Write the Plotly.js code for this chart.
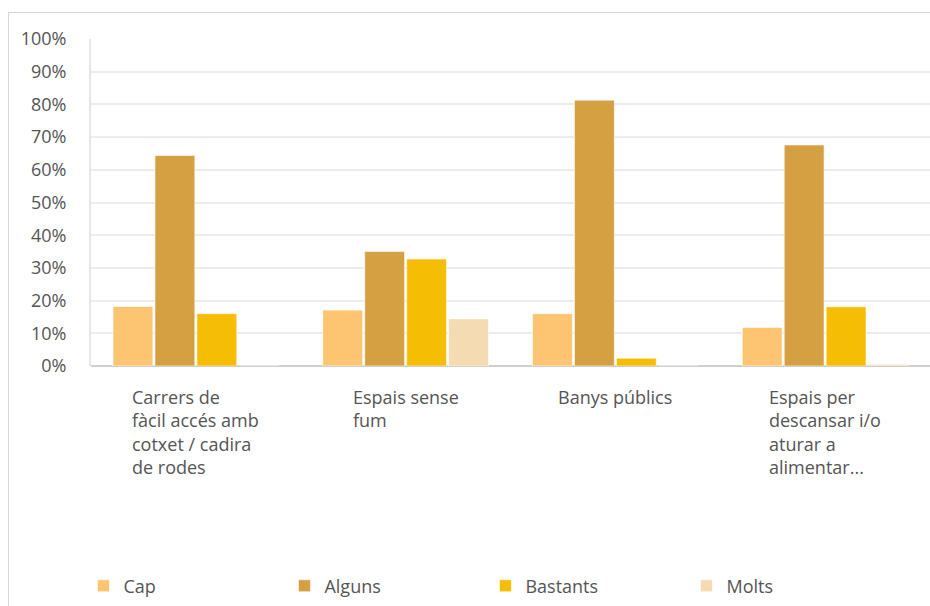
<!DOCTYPE html>
<html>
<head>
<meta charset="utf-8">
<script src="https://cdn.plot.ly/plotly-3.0.1.min.js"></script>
<style>
body{margin:0;padding:0;background:#fff;}
#wrap{position:relative;width:930px;height:606px;}
#chart{position:absolute;left:0;top:0;width:930px;height:606px;}
#frame{position:absolute;left:8px;top:12px;width:930px;height:600px;border-top:1px solid #d6d6d6;border-left:1px solid #d6d6d6;pointer-events:none;}
</style>
</head>
<body>
<div id="wrap"><div id="chart"></div><div id="frame"></div></div>
<script>
const categories = ["Carrers de<br>fàcil accés amb<br>cotxet / cadira<br>de rodes", "Espais sense<br>fum", "Banys públics", "Espais per<br>descansar i/o<br>aturar a<br>alimentar..."];
const seriesNames = ["Cap", "Alguns", "Bastants", "Molts"];
const cap = [18.2, 17.1, 16.0, 11.8];
const alguns = [64.4, 35.0, 81.3, 67.6];
const bastants = [16.0, 32.7, 2.4, 18.1];
const molts = [0, 14.4, 0, 0.5];
const colors = ["#FDC571", "#D5A042", "#F5BD03", "#F5DBB1"];
const yTicks = [0,10,20,30,40,50,60,70,80,90,100];

const font = "Open Sans, Liberation Sans, sans-serif";
const idx = categories.map((c,i)=>i);
const vals = [cap, alguns, bastants, molts];
const traces = vals.map((v,i)=>({
  type:'bar', x: idx, y: v, name: seriesNames[i],
  marker:{color: colors[i], line:{color:'rgba(255,255,255,0.6)', width:1}},
  hoverinfo:'y+name'
}));

const annotations = categories.map((c,i)=>({
  x: i, y: 0, xref:'x', yref:'paper', yanchor:'top', xanchor:'center',
  yshift:-17, align:'left', showarrow:false, text: c,
  font:{family: font, size:18, color:'#555'}
}));

const layout = {
  width:930, height:606,
  margin:{l:91, r:0, t:39, b:240, autoexpand:false},
  paper_bgcolor:'rgba(0,0,0,0)', plot_bgcolor:'#fff',
  barmode:'group', bargap:0.2, bargroupgap:0.05,
  font:{family: font, color:'#555'},
  xaxis:{
    range:[-0.5,3.5], tickvals: idx, showticklabels:false,
    showgrid:false, zeroline:false, showline:false, fixedrange:true
  },
  yaxis:{
    range:[0,100], tickvals: yTicks, ticktext: yTicks.map(t=>t+'%'),
    showgrid:true, gridcolor:'#ececec', gridwidth:2,
    showline:true, linecolor:'#e6e6e6', linewidth:2,
    zeroline:true, zerolinecolor:'#cfcfcf', zerolinewidth:2,
    ticks:'outside', ticklen:19, tickcolor:'rgba(0,0,0,0)',
    tickfont:{family: font, size:18, color:'#555'}, fixedrange:true
  },
  showlegend:true,
  legend:{orientation:'h', x:-0.009, y:-0.673, xanchor:'left', yanchor:'middle',
    entrywidth:156, entrywidthmode:'pixels', traceorder:'normal',
    font:{family: font, size:18, color:'#555'}},
  annotations: annotations
};
Plotly.newPlot('chart', traces, layout, {displayModeBar:false, staticPlot:true});
</script>
</body>
</html>
